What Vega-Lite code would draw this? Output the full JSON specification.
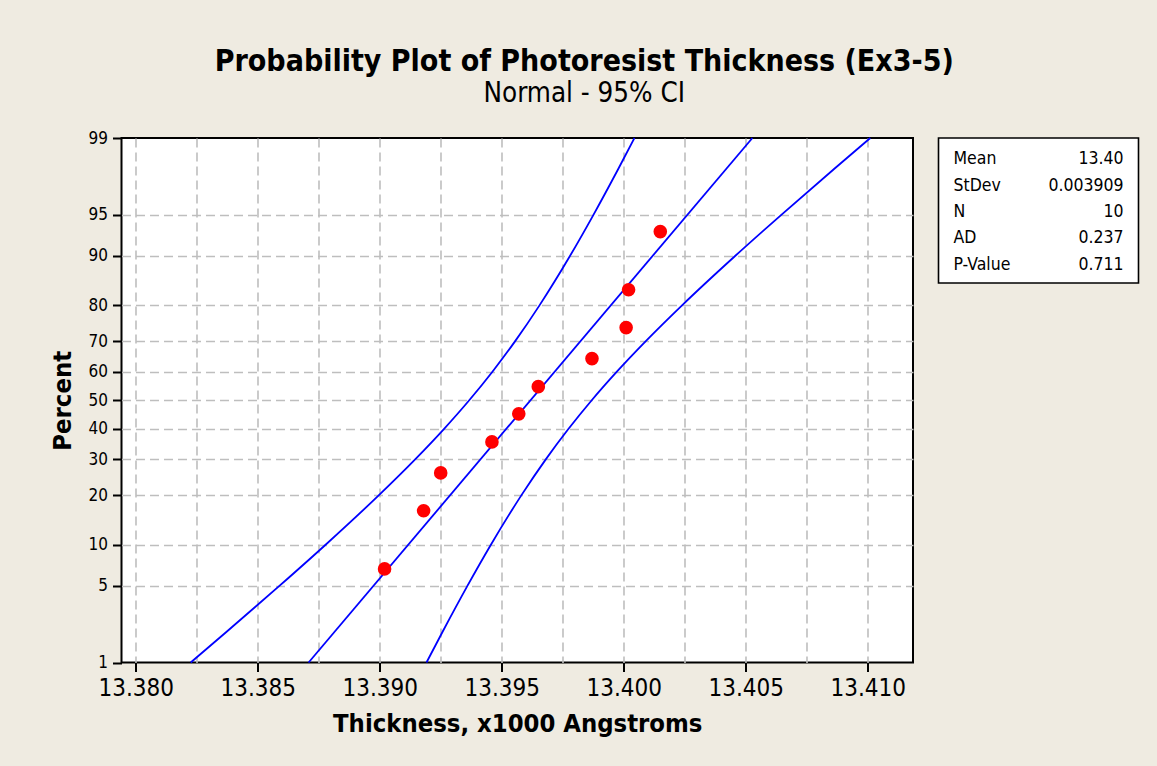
{
  "$schema": "https://vega.github.io/schema/vega-lite/v6.json",
  "background": "#EFEBE1",
  "padding": {"left": 48.5, "top": 45, "right": 22, "bottom": 28},
  "config": {
    "font": "DejaVu Sans Condensed, DejaVu Sans, sans-serif",
    "view": {"fill": "white", "stroke": "black", "strokeWidth": 2}
  },
  "datasets": {
    "ci": [
      {"curve": "lower", "percent": 1, "thickness": 13.382254},
      {"curve": "lower", "percent": 2, "thickness": 13.383726},
      {"curve": "lower", "percent": 5, "thickness": 13.3859},
      {"curve": "lower", "percent": 10, "thickness": 13.387783},
      {"curve": "lower", "percent": 20, "thickness": 13.389969},
      {"curve": "lower", "percent": 30, "thickness": 13.391453},
      {"curve": "lower", "percent": 40, "thickness": 13.39264},
      {"curve": "lower", "percent": 50, "thickness": 13.39367},
      {"curve": "lower", "percent": 60, "thickness": 13.39462},
      {"curve": "lower", "percent": 70, "thickness": 13.395553},
      {"curve": "lower", "percent": 80, "thickness": 13.396549},
      {"curve": "lower", "percent": 90, "thickness": 13.397803},
      {"curve": "lower", "percent": 95, "thickness": 13.39876},
      {"curve": "lower", "percent": 98, "thickness": 13.399782},
      {"curve": "lower", "percent": 99, "thickness": 13.400442},
      {"curve": "fit", "percent": 1, "thickness": 13.387086},
      {"curve": "fit", "percent": 99, "thickness": 13.405274},
      {"curve": "upper", "percent": 1, "thickness": 13.391918},
      {"curve": "upper", "percent": 2, "thickness": 13.392578},
      {"curve": "upper", "percent": 5, "thickness": 13.3936},
      {"curve": "upper", "percent": 10, "thickness": 13.394557},
      {"curve": "upper", "percent": 20, "thickness": 13.395811},
      {"curve": "upper", "percent": 30, "thickness": 13.396807},
      {"curve": "upper", "percent": 40, "thickness": 13.39774},
      {"curve": "upper", "percent": 50, "thickness": 13.39869},
      {"curve": "upper", "percent": 60, "thickness": 13.39972},
      {"curve": "upper", "percent": 70, "thickness": 13.400907},
      {"curve": "upper", "percent": 80, "thickness": 13.402391},
      {"curve": "upper", "percent": 90, "thickness": 13.404577},
      {"curve": "upper", "percent": 95, "thickness": 13.40646},
      {"curve": "upper", "percent": 98, "thickness": 13.408634},
      {"curve": "upper", "percent": 99, "thickness": 13.410106}
    ],
    "points": [
      {"thickness": 13.3902, "percent": 6.73},
      {"thickness": 13.3918, "percent": 16.35},
      {"thickness": 13.3925, "percent": 25.96},
      {"thickness": 13.3946, "percent": 35.58},
      {"thickness": 13.3957, "percent": 45.19},
      {"thickness": 13.3965, "percent": 54.81},
      {"thickness": 13.3987, "percent": 64.42},
      {"thickness": 13.4001, "percent": 74.04},
      {"thickness": 13.4002, "percent": 83.65},
      {"thickness": 13.4015, "percent": 93.27}
    ],
    "stats": [
      {"stat": "Mean", "value": "13.40"},
      {"stat": "StDev", "value": "0.003909"},
      {"stat": "N", "value": "10"},
      {"stat": "AD", "value": "0.237"},
      {"stat": "P-Value", "value": "0.711"}
    ]
  },
  "hconcat": [
    {
      "width": 791.5,
      "height": 524.5,
      "title": {
        "text": "Probability Plot of Photoresist Thickness (Ex3-5)",
        "subtitle": "Normal - 95% CI",
        "anchor": "middle",
        "frame": "group",
        "font": "DejaVu Sans Condensed, DejaVu Sans, sans-serif",
        "fontSize": 30,
        "fontWeight": "bold",
        "color": "black",
        "subtitleFont": "DejaVu Sans Condensed, DejaVu Sans, sans-serif",
        "subtitleFontSize": 27.5,
        "subtitleColor": "black",
        "subtitlePadding": 3.5,
        "offset": 21.5,
        "dx": 67
      },
      "layer": [
        {
          "data": {"name": "ci"},
          "transform": [{"calculate": "quantileNormal(datum.percent / 100)", "as": "z"}],
          "mark": {"type": "line", "color": "#0000FF", "strokeWidth": 1.8, "interpolate": "monotone"},
          "encoding": {
            "x": {
              "field": "thickness",
              "type": "quantitative",
              "scale": {"domain": [13.379418, 13.411857], "nice": false, "zero": false},
              "axis": {
                "values": [13.38, 13.3825, 13.385, 13.3875, 13.39, 13.3925, 13.395, 13.3975, 13.4, 13.4025, 13.405, 13.4075, 13.41],
                "labelExpr": "round(datum.value * 10000) % 50 == 0 ? format(datum.value, '.3f') : ''",
                "grid": true,
                "gridColor": "#BEBEBE",
                "gridDash": [9, 5],
                "gridWidth": 1.6,
                "domain": false,
                "tickColor": "black",
                "tickWidth": 2,
                "tickSize": 9,
                "tickOpacity": {"condition": {"test": "round(datum.value * 10000) % 50 == 0", "value": 1}, "value": 0},
                "labelFontSize": 24,
                "labelColor": "black",
                "labelPadding": 5,
                "labelFlush": false,
                "labelOverlap": false,
                "title": "Thickness, x1000 Angstroms",
                "titleFontSize": 25.4,
                "titleFontWeight": "bold",
                "titleColor": "black",
                "titlePadding": 11
              }
            },
            "y": {
              "field": "z",
              "type": "quantitative",
              "scale": {"domain": [-2.3263479, 2.3263479], "nice": false, "zero": false},
              "axis": {
                "values": [-2.3263479, -1.6448536, -1.2815516, -0.8416212, -0.5244005, -0.2533471, 0, 0.2533471, 0.5244005, 0.8416212, 1.2815516, 1.6448536, 2.3263479],
                "labelExpr": "round(cumulativeNormal(datum.value) * 100)",
                "grid": true,
                "gridColor": "#BEBEBE",
                "gridDash": [9, 5],
                "gridWidth": 1.6,
                "gridOpacity": {"condition": {"test": "abs(datum.value) > 2.3", "value": 0}, "value": 1},
                "domain": false,
                "tickColor": "black",
                "tickWidth": 2,
                "tickSize": 9,
                "labelFontSize": 17,
                "labelColor": "black",
                "labelPadding": 5,
                "labelFlush": false,
                "labelOverlap": false,
                "title": "Percent",
                "titleFontSize": 25.5,
                "titleFontWeight": "bold",
                "titleColor": "black",
                "titlePadding": 13
              }
            },
            "detail": {"field": "curve"},
            "order": {"field": "percent", "type": "quantitative"}
          }
        },
        {
          "data": {"name": "points"},
          "transform": [{"calculate": "quantileNormal(datum.percent / 100)", "as": "z"}],
          "mark": {"type": "circle", "color": "#FF0000", "opacity": 1, "size": 185},
          "encoding": {
            "x": {"field": "thickness", "type": "quantitative"},
            "y": {"field": "z", "type": "quantitative"}
          }
        }
      ]
    },
    {
      "width": 200,
      "height": 145,
      "view": {"fill": "white", "stroke": "black", "strokeWidth": 1.6},
      "data": {"name": "stats"},
      "encoding": {
        "y": {"field": "stat", "type": "nominal", "sort": null, "scale": {"type": "point", "padding": 0.75}, "axis": null}
      },
      "layer": [
        {
          "mark": {"type": "text", "align": "left", "fontSize": 17.5, "color": "black", "dy": 1.5},
          "encoding": {
            "x": {"datum": "label", "type": "nominal", "scale": {"type": "point", "domain": ["label", "value"], "padding": 0.088}, "axis": null},
            "text": {"field": "stat"}
          }
        },
        {
          "mark": {"type": "text", "align": "right", "fontSize": 17.5, "color": "black", "dy": 1.5},
          "encoding": {
            "x": {"datum": "value", "type": "nominal"},
            "text": {"field": "value"}
          }
        }
      ]
    }
  ],
  "spacing": 25,
  "bounds": "flush"
}
